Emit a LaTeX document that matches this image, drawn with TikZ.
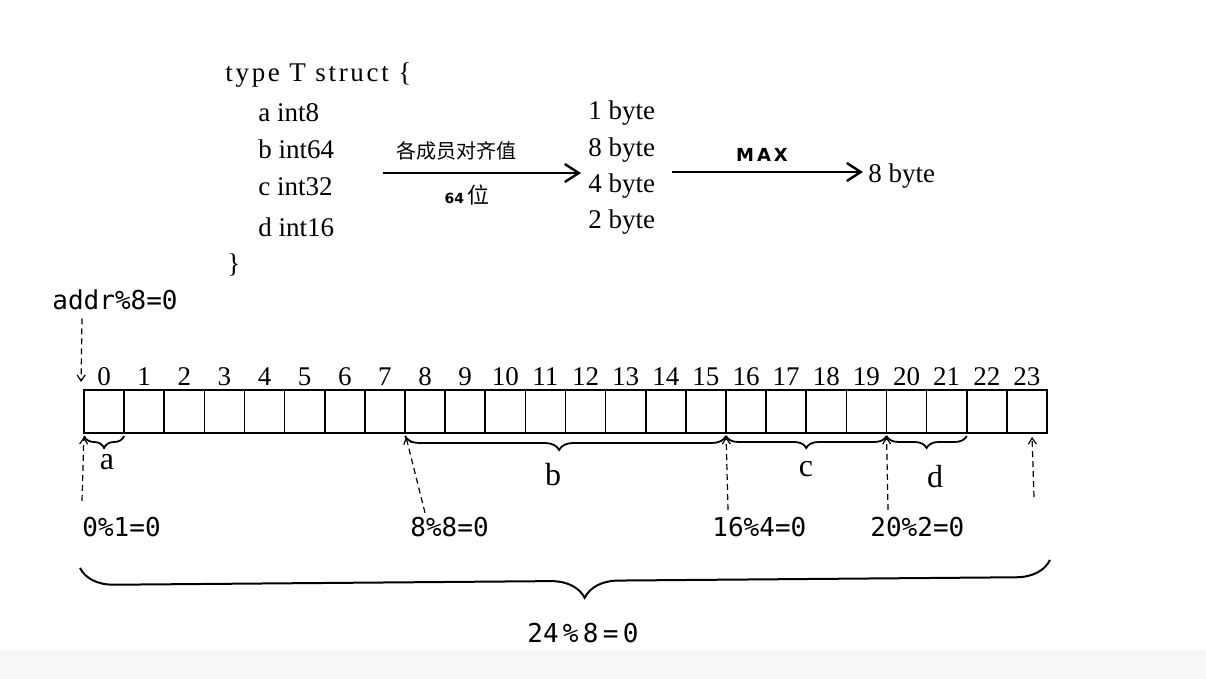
\documentclass[tikz,border=0pt]{standalone}
\usepackage{fontspec}
\setmainfont{Liberation Serif}
\newfontfamily\hand{DejaVu Sans Mono}
\newfontfamily\cjk{Noto Sans CJK SC}
\newfontfamily\sansb{DejaVu Sans}
\usetikzlibrary{arrows.meta,decorations.pathreplacing,calc}
\begin{document}
\begin{tikzpicture}[x=0.5pt,y=-0.5pt,
  cell/.style={draw,line width=0.8pt,minimum width=20.0625pt,minimum height=21.5pt,inner sep=0pt,outer sep=0pt},
  numlbl/.style={font=\fontsize{13.5}{14}\selectfont,inner sep=0pt},
  code/.style={font=\fontsize{13.5}{14}\selectfont,anchor=west,inner sep=0pt},
  hw/.style={font=\hand\fontsize{13}{14}\selectfont,anchor=west,inner sep=0pt},
  member/.style={font=\fontsize{16}{17}\selectfont,inner sep=0pt},
  bigarrow/.style={line width=1.2pt,-{Straight Barb[length=7pt,width=9pt,line width=1.2pt]}},
  dasharrow/.style={line width=0.6pt,dash pattern=on 3pt off 2pt,-{Straight Barb[length=3pt,width=4pt,line width=0.6pt]}},
  memberbrace/.style={line width=0.9pt,decorate,decoration={brace,mirror,amplitude=6pt}}
]
\useasboundingbox (0,0) rectangle (1206,679);
\fill[black!3] (0,650) rectangle (1206,679);

% struct definition
\node[code] (s0) at (225,75) {\addfontfeature{LetterSpace=10}type T struct \{};
\node[code] (sa) at (258,113) {a int8};
\node[code] (sb) at (258,149) {b int64};
\node[code] (sc) at (258,187) {c int32};
\node[code] (sd) at (258,227) {d int16};
\node[code] (se) at (227,265) {\}};

% sizes
\node[code] (b1) at (588,113) {1 byte};
\node[code] (b8) at (588,150) {8 byte};
\node[code] (b4) at (588,186) {4 byte};
\node[code] (b2) at (588,222) {2 byte};
\node[code] (r8) at (868,176) {8 byte};

\coordinate (a1s) at (383,173);
\coordinate (a1e) at (581,173);
\draw[bigarrow] (a1s) -- (a1e);
\node[font=\cjk\fontsize{10}{11}\selectfont,inner sep=0pt] (lbl1) at (456,151) {各成员对齐值};
\node[inner sep=0pt] (lbl2) at (467,195) {{\sansb\bfseries\fontsize{7}{8}\selectfont 64}\,{\cjk\fontsize{11}{12}\selectfont 位}};

\coordinate (a2s) at (672,172);
\coordinate (a2e) at (863,172);
\draw[bigarrow] (a2s) -- (a2e);
\node[font=\sansb\bfseries\fontsize{9}{10}\selectfont,inner sep=0pt] (max) at (762,155) {M\,A\,X};

% memory cells
\foreach \i in {0,...,23}{
  \node[cell] (c\i) at ({84+40.125*(\i+0.5)},411.5) {};
  \node[numlbl] (n\i) at ({84+40.125*(\i+0.5)},377) {\i};
}

% alignment labels
\node[hw] (addr) at (52,300) {addr\%8=0};
\node[hw] (l0) at (82,527) {0\%1=0};
\node[hw] (l8) at (410,527) {8\%8=0};
\node[hw] (l16) at (712,527) {16\%4=0};
\node[hw] (l20) at (870,527) {20\%2=0};
\node[hw,anchor=center] (l24) at (583,633) {24\,\%\,8\,=\,0};
\coordinate (end23) at (1034,497);

\draw[dasharrow,shorten >=2pt] ($(addr.south west)+(30,8)$) -- ($(c0.north west)+(-3,-4)$);
\draw[dasharrow,shorten >=2pt] ($(l0.north west)+(0,-16)$) -- (c0.south west);
\draw[dasharrow,shorten >=2pt] ($(l8.north west)+(15,-4)$) -- (c8.south west);
\draw[dasharrow,shorten >=2pt] ($(l16.north west)+(16,-7)$) -- (c16.south west);
\draw[dasharrow,shorten >=2pt] ($(l20.north west)+(18,-7)$) -- (c20.south west);
\draw[dasharrow,shorten >=2pt] (end23) -- ($(c23.south)+(5,0)$);

% member braces
\draw[memberbrace] ($(c0.south west)+(0,3)$) -- ($(c0.south east)+(0,3)$);
\draw[memberbrace,decoration={brace,mirror,amplitude=7pt,aspect=0.48}] ($(c8.south west)+(0,3)$) -- ($(c15.south east)+(0,3)$);
\draw[memberbrace] ($(c16.south west)+(0,3)$) -- ($(c19.south east)+(0,3)$);
\draw[memberbrace] ($(c20.south west)+(0,3)$) -- ($(c21.south east)+(0,3)$);
\node[member] (ma) at (107,462) {a};
\node[member] (mb) at (553,475) {b};
\node[member] (mc) at (806,469) {c};
\node[member] (md) at (935,477) {d};

% whole brace
\coordinate (wb1) at (80,568);
\coordinate (wb2) at (1050,560);
\draw[line width=1pt,decorate,decoration={brace,mirror,amplitude=17pt,aspect=0.52}] (wb1) -- (wb2);
\end{tikzpicture}
\end{document}
